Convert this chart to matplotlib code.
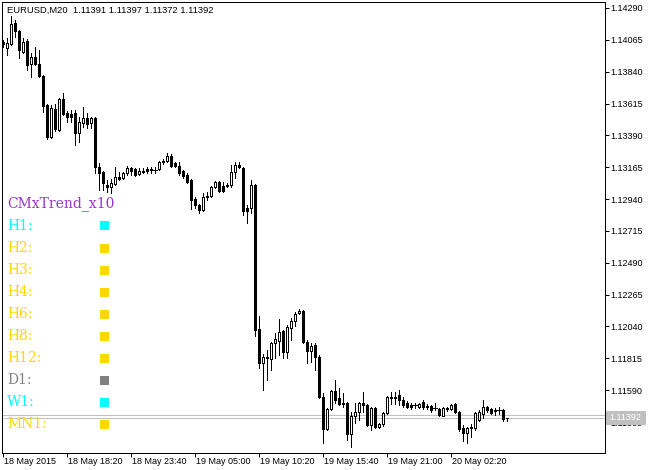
import matplotlib
matplotlib.use("Agg")
import matplotlib.pyplot as plt
import numpy as np
from matplotlib.patches import Rectangle

# ---------------- data ----------------
symbol = "EURUSD,M20"

opens_pts = [114050, 114007, 114036, 114184, 114128, 113979, 114057, 113894, 113944, 113894,
             113810, 113605, 113379, 113577, 113428, 113647, 113548, 113541, 113548, 113407,
             113478, 113513, 113478, 113513, 113167, 113131, 113040, 113026, 113047, 113096,
             113089, 113124, 113160, 113153, 113117, 113139, 113153, 113146, 113146, 113153,
             113202, 113209, 113245, 113195, 113174, 113139, 113110, 113075, 112941, 112898,
             112863, 112955, 112962, 113026, 113061, 113033, 113033, 113040, 113131, 113181,
             113160, 112877, 112877, 113040, 112022, 111782, 111818, 111811, 111924, 111938,
             112008, 111860, 112030, 112079, 112135, 112150, 111931, 111867, 111909, 111825,
             111542, 111316, 111457, 111584, 111535, 111493, 111500, 111281, 111408, 111436,
             111500, 111486, 111344, 111464, 111330, 111351, 111429, 111535, 111542, 111556,
             111521, 111500, 111486, 111486, 111471, 111507, 111479, 111479, 111464, 111457,
             111408, 111464, 111457, 111493, 111436, 111323, 111288, 111323, 111323, 111380,
             111422, 111471, 111457, 111450, 111450, 111450, 111391]

highs_pts = [114064, 114078, 114233, 114205, 114135, 114078, 114071, 113972, 114015, 113993,
             113817, 113612, 113605, 113612, 113654, 113690, 113562, 113570, 113570, 113520,
             113591, 113548, 113520, 113520, 113195, 113139, 113075, 113082, 113167, 113131,
             113131, 113174, 113167, 113160, 113160, 113160, 113167, 113167, 113167, 113209,
             113223, 113266, 113259, 113202, 113202, 113146, 113124, 113082, 112955, 112905,
             112983, 112990, 113033, 113068, 113068, 113061, 113054, 113181, 113202, 113202,
             113167, 112898, 113075, 113047, 112114, 111846, 111874, 111931, 111994, 112093,
             112015, 112051, 112100, 112143, 112164, 112157, 111945, 111924, 111924, 111839,
             111570, 111464, 111592, 111662, 111606, 111570, 111507, 111436, 111500, 111507,
             111577, 111493, 111471, 111471, 111358, 111436, 111549, 111577, 111577, 111592,
             111542, 111514, 111500, 111500, 111500, 111521, 111493, 111486, 111500, 111464,
             111471, 111471, 111493, 111500, 111443, 111344, 111330, 111351, 111436, 111450,
             111521, 111479, 111464, 111464, 111471, 111457, 111397]

lows_pts = [114015, 113958, 114029, 114085, 113937, 113972, 113852, 113803, 113887, 113803,
            113555, 113365, 113372, 113421, 113421, 113534, 113485, 113485, 113322, 113343,
            113449, 113442, 113442, 113124, 113004, 113004, 112990, 112983, 113040, 113075,
            113082, 113110, 113110, 113103, 113110, 113124, 113124, 113124, 113124, 113146,
            113188, 113202, 113167, 113167, 113110, 113089, 113054, 112870, 112877, 112842,
            112856, 112934, 112955, 113018, 112990, 112990, 113026, 113026, 113089, 113160,
            112828, 112771, 112842, 111973, 111747, 111592, 111662, 111733, 111818, 111839,
            111818, 111818, 111945, 112044, 112128, 111924, 111782, 111789, 111733, 111535,
            111217, 111309, 111450, 111500, 111486, 111471, 111238, 111189, 111358, 111380,
            111436, 111337, 111309, 111323, 111323, 111337, 111422, 111493, 111493, 111486,
            111471, 111464, 111457, 111464, 111464, 111457, 111457, 111436, 111450, 111408,
            111408, 111443, 111450, 111429, 111302, 111231, 111217, 111260, 111309, 111373,
            111394, 111436, 111422, 111415, 111422, 111373, 111372]

closes_pts = [114036, 114043, 114177, 114128, 113993, 114050, 113887, 113944, 113894, 113810,
              113598, 113379, 113584, 113435, 113647, 113541, 113520, 113520, 113407, 113485,
              113513, 113471, 113513, 113167, 113124, 113054, 113026, 113054, 113096, 113082,
              113124, 113160, 113139, 113110, 113139, 113131, 113139, 113153, 113146, 113202,
              113209, 113245, 113174, 113174, 113124, 113103, 113061, 112934, 112898, 112863,
              112955, 112962, 113026, 113061, 112997, 112997, 113040, 113131, 113181, 113167,
              112856, 112856, 113040, 112015, 111782, 111825, 111825, 111924, 111952, 112001,
              111860, 112037, 112079, 112128, 112150, 111931, 111867, 111902, 111825, 111542,
              111316, 111457, 111584, 111521, 111493, 111500, 111281, 111408, 111436, 111500,
              111486, 111344, 111464, 111330, 111351, 111429, 111542, 111542, 111535, 111521,
              111486, 111471, 111471, 111486, 111493, 111471, 111471, 111450, 111464, 111415,
              111464, 111457, 111486, 111436, 111316, 111288, 111323, 111330, 111429, 111436,
              111471, 111450, 111429, 111443, 111450, 111387, 111392]

price_ticks = [1.14290, 1.14065, 1.13840, 1.13615, 1.13390, 1.13165, 1.12940,
               1.12715, 1.12490, 1.12265, 1.12040, 1.11815, 1.11590, 1.11365]

time_label_bars = [0, 16, 32, 48, 64, 80, 96, 112]
time_labels = ["18 May 2015", "18 May 18:20", "18 May 23:40", "19 May 05:00",
               "19 May 10:20", "19 May 15:40", "19 May 21:00", "20 May 02:20"]

bid_price = 1.11392
ask_price = 1.11415

indicator_name = "CMxTrend_x10"
tf_names = ["H1", "H2", "H3", "H4", "H6", "H8", "H12", "D1", "W1", "MN1"]
tf_colors = ["#00FFFF", "#FFD700", "#FFD700", "#FFD700", "#FFD700", "#FFD700",
             "#FFD700", "#808080", "#00FFFF", "#FFD700"]

# ---------------- figure ----------------
W, H = 654, 470
fig = plt.figure(figsize=(W / 100, H / 100), dpi=100)
fig.patch.set_facecolor("white")

ax_l, ax_r, ax_t, ax_b = 2, 605, 2, 453
ax = fig.add_axes([ax_l / W, 1 - ax_b / H, (ax_r - ax_l) / W, (ax_b - ax_t) / H])
ax.set_facecolor("white")

o = np.array(opens_pts) / 1e5
h = np.array(highs_pts) / 1e5
l = np.array(lows_pts) / 1e5
c = np.array(closes_pts) / 1e5
x = np.arange(len(o))

PX = 0.72  # one pixel in points
# wicks
ax.vlines(x, l, h, color="black", lw=PX, zorder=3, antialiased=False)
bw = 0.5
for i in range(len(o)):
    if abs(c[i] - o[i]) < 1e-7:
        ax.hlines(o[i], i - bw / 2 - 0.15, i + bw / 2 + 0.15, color="black", lw=PX,
                  zorder=4, antialiased=False)
    else:
        bottom = min(o[i], c[i])
        height = abs(c[i] - o[i])
        fc = "white" if c[i] > o[i] else "black"
        ax.add_patch(Rectangle((i - bw / 2, bottom), bw, height, facecolor=fc,
                               edgecolor="black", lw=PX, zorder=4, antialiased=False))

ax.axhline(bid_price, color="#C0C0C0", lw=PX, zorder=2, antialiased=False)
ax.axhline(ask_price, color="#C0C0C0", lw=PX, zorder=2, antialiased=False)

ax.set_xlim(-0.25, -0.25 + (ax_r - ax_l) / 4.0)
p_top = 1.14290 + (8 - ax_t) * 0.00225 / 31.85
p_bot = 1.14290 - (ax_b - 8) * 0.00225 / 31.85
ax.set_ylim(p_bot, p_top)

for s in ax.spines.values():
    s.set_linewidth(PX)
    s.set_color("black")

ax.yaxis.tick_right()
ax.set_yticks(price_ticks)
ax.set_yticklabels(["%.5f" % p for p in price_ticks])
ax.tick_params(axis="y", direction="out", length=4 * PX, width=PX, pad=1,
               labelsize=6.5, colors="black")
for t in ax.get_yticklabels():
    t.set_fontfamily("Liberation Sans")

ax.set_xticks(time_label_bars)
ax.set_xticklabels([])
ax.tick_params(axis="x", direction="out", length=4 * PX, width=PX)
for b, lab in zip(time_label_bars, time_labels):
    ax.annotate(lab, xy=(b, 0), xycoords=("data", "axes fraction"),
                xytext=(1.5, -9), textcoords="offset pixels",
                ha="left", va="center", fontsize=6.5, family="Liberation Sans",
                annotation_clip=False)

# header text
last = len(o) - 1
header = "%s  %.5f %.5f %.5f %.5f" % (symbol, o[last], h[last], l[last], c[last])
fig.text(7 / W, 1 - 10 / H, header, ha="left", va="center", fontsize=6.75,
         family="Liberation Sans", color="black")

# current price label on axis
fig.add_artist(Rectangle((606 / W, 1 - 425 / H), 40 / W, 14 / H,
                         transform=fig.transFigure, facecolor="#C0C0C0",
                         edgecolor="none", zorder=5))
fig.text(609 / W, 1 - 418 / H, "%.5f" % bid_price, ha="left", va="center",
         fontsize=6.5, family="Liberation Sans", color="white", zorder=6)

# indicator panel
fig.text(7 / W, 1 - 204 / H, indicator_name, ha="left", va="center", fontsize=10,
         family="DejaVu Serif", color="#9932CC", zorder=6)
for k, (nm, col) in enumerate(zip(tf_names, tf_colors)):
    yc = 226 + 22 * k
    fig.text(7 / W, 1 - yc / H, nm + ":", ha="left", va="center", fontsize=10,
             family="DejaVu Serif", color=col, zorder=6)
    fig.add_artist(Rectangle((100 / W, 1 - (yc + 4.5) / H), 9 / W, 9 / H,
                             transform=fig.transFigure, facecolor=col,
                             edgecolor="none", zorder=6))

fig.savefig("out.png", dpi=100, facecolor="white")
